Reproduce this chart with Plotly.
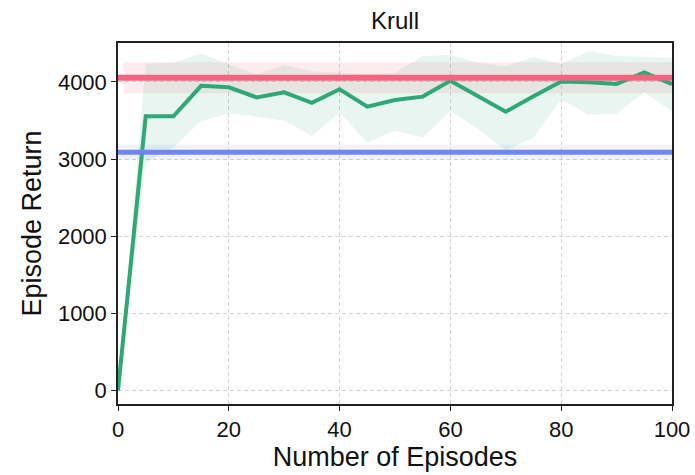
import plotly.graph_objects as go

# Training curve: mean episode return with its spread band
episodes = [0, 5, 10, 15, 20, 25, 30, 35, 40, 45, 50, 55, 60, 65, 70, 75, 80, 85, 90, 95, 100]
mean_return = [0, 3555, 3555, 3950, 3930, 3800, 3865, 3730, 3905, 3680, 3765,
               3810, 4015, 3810, 3615, 3815, 4005, 3995, 3975, 4125, 3970]
upper_return = [0, 4240, 4250, 4370, 4230, 4100, 4220, 4140, 4120, 4100, 4120,
                4335, 4350, 4250, 4205, 4325, 4230, 4400, 4335, 4325, 4315]
lower_return = [0, 2960, 3150, 3495, 3590, 3550, 3500, 3300, 3605, 3215, 3370,
                3280, 3625, 3390, 3110, 3280, 3775, 3575, 3585, 3865, 3620]

# Reference baselines (mean and spread)
baseline_red = 4055
baseline_red_spread = 200
baseline_blue = 3090
baseline_blue_spread = 95
baseline_x = [0, 100]
red_band_x = [1, 100]

GREEN = "#2ea876"
RED = "#f2647f"
BLUE = "#7085f0"

fig = go.Figure()

# spread bands
fig.add_trace(go.Scatter(x=red_band_x, y=[baseline_red + baseline_red_spread] * 2,
                         mode="lines", line=dict(width=0), hoverinfo="skip", showlegend=False))
fig.add_trace(go.Scatter(x=red_band_x, y=[baseline_red - baseline_red_spread] * 2,
                         mode="lines", line=dict(width=0), fill="tonexty",
                         fillcolor="rgba(242,100,127,0.12)", hoverinfo="skip", showlegend=False))
fig.add_trace(go.Scatter(x=baseline_x, y=[baseline_blue + baseline_blue_spread] * 2,
                         mode="lines", line=dict(width=0), hoverinfo="skip", showlegend=False))
fig.add_trace(go.Scatter(x=baseline_x, y=[baseline_blue - baseline_blue_spread] * 2,
                         mode="lines", line=dict(width=0), fill="tonexty",
                         fillcolor="rgba(112,133,240,0.10)", hoverinfo="skip", showlegend=False))
fig.add_trace(go.Scatter(x=episodes, y=upper_return, mode="lines", line=dict(width=0),
                         hoverinfo="skip", showlegend=False))
fig.add_trace(go.Scatter(x=episodes, y=lower_return, mode="lines", line=dict(width=0),
                         fill="tonexty", fillcolor="rgba(46,168,118,0.11)",
                         hoverinfo="skip", showlegend=False))

# mean curve
fig.add_trace(go.Scatter(x=episodes, y=mean_return, mode="lines",
                         line=dict(color=GREEN, width=4), showlegend=False))

# baseline lines
fig.add_trace(go.Scatter(x=baseline_x, y=[baseline_red] * 2, mode="lines",
                         line=dict(color=RED, width=6), showlegend=False))
fig.add_trace(go.Scatter(x=baseline_x, y=[baseline_blue] * 2, mode="lines",
                         line=dict(color=BLUE, width=5), showlegend=False))

axis_common = dict(
    showline=True, linecolor="#222", linewidth=1.5, mirror=True,
    ticks="outside", ticklen=5, tickwidth=1.2, tickcolor="#222",
    showgrid=True, gridcolor="#d4d4d4", griddash="4px,3px", gridwidth=0.8,
    zeroline=False, tickfont=dict(size=22, color="#111"), automargin=False,
)

fig.update_layout(
    width=695, height=475,
    margin=dict(l=118, r=23, t=43, b=71),
    paper_bgcolor="white", plot_bgcolor="white",
    font=dict(family="Liberation Sans, Arial, sans-serif", color="#111"),
    title=dict(text="Krull", x=(118 + 672) / 2 / 695, xanchor="center",
               y=1 - 21 / 475, yanchor="middle", font=dict(size=24)),
    xaxis=dict(range=[0, 100], tickvals=[0, 20, 40, 60, 80, 100],
               title=dict(text="Number of Episodes", font=dict(size=27), standoff=2),
               **axis_common),
    yaxis=dict(range=[-175, 4505], tickvals=[0, 1000, 2000, 3000, 4000],
               title=dict(text="Episode Return", font=dict(size=27), standoff=8),
               **axis_common),
)

fig.write_html("out.html")
